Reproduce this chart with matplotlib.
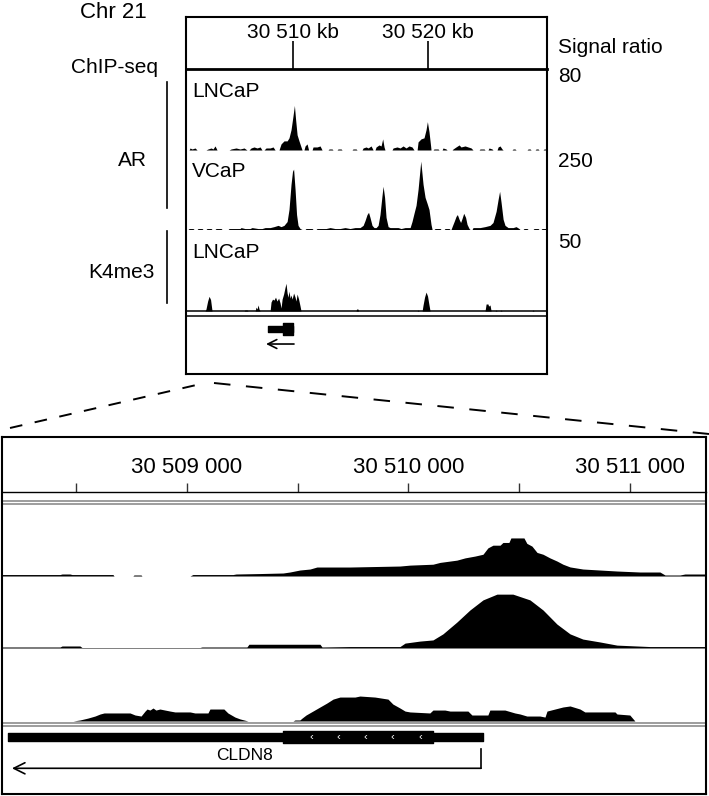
import matplotlib.pyplot as plt
from matplotlib.lines import Line2D

plt.rcParams['font.family'] = ['Liberation Sans', 'DejaVu Sans']

W, H = 709, 796

# ---------------- overview panel, chr21 in kb ----------------
top_xlim = (30502.07, 30528.81)
top_ticks = [30510, 30520]
top_tick_labels = ['30 510 kb', '30 520 kb']

# (kb, signal ratio)
ar_lncap_top = [
    (30502.07, 0), (30502.30, 0), (30502.37, 2), (30502.52, 1), (30502.74, 2), (30502.89, 0),
    (30503.55, 0), (30503.70, 1), (30503.93, 2), (30504.07, 1), (30504.22, 4), (30504.37, 0),
    (30505.26, 0), (30505.41, 1), (30505.78, 2), (30506.07, 1), (30506.37, 2), (30506.59, 0),
    (30506.74, 0), (30506.89, 2), (30507.11, 3), (30507.33, 2), (30507.56, 3), (30507.70, 0),
    (30507.85, 0), (30508.00, 2), (30508.30, 2), (30508.52, 3), (30508.67, 0),
    (30508.96, 0), (30509.11, 6), (30509.33, 9), (30509.56, 9), (30509.70, 12), (30509.85, 20),
    (30510.00, 34), (30510.10, 44), (30510.19, 30), (30510.30, 15), (30510.44, 9), (30510.59, 3),
    (30510.67, 0),
    (30510.81, 0), (30510.89, 4), (30511.04, 6), (30511.15, 0),
    (30511.41, 0), (30511.48, 3), (30511.78, 3), (30512.00, 4), (30512.15, 0),
    (30512.59, 0), (30512.67, 1), (30512.89, 1), (30512.96, 0), (30513.26, 0), (30513.33, 1),
    (30513.56, 1), (30513.63, 0),
    (30514.37, 0), (30514.44, 1), (30514.67, 1), (30514.74, 0),
    (30515.11, 0), (30515.19, 2), (30515.41, 3), (30515.56, 2), (30515.78, 4), (30515.93, 0),
    (30516.07, 0), (30516.15, 3), (30516.37, 5), (30516.52, 4), (30516.64, 11), (30516.74, 3),
    (30516.81, 0),
    (30517.33, 0), (30517.41, 2), (30517.70, 3), (30517.93, 2), (30518.15, 4), (30518.37, 2),
    (30518.59, 4), (30518.81, 3), (30518.96, 0),
    (30519.19, 0), (30519.26, 8), (30519.48, 11), (30519.70, 12), (30519.85, 20), (30519.95, 28),
    (30520.07, 18), (30520.19, 4), (30520.22, 0),
    (30520.37, 0), (30520.44, 1), (30520.74, 1), (30520.81, 0), (30521.04, 0), (30521.11, 2),
    (30521.33, 1), (30521.41, 0),
    (30521.78, 0), (30521.85, 1), (30522.07, 3), (30522.30, 5), (30522.44, 3), (30522.74, 4),
    (30522.96, 3), (30523.19, 2), (30523.33, 0),
    (30523.78, 0), (30523.85, 1), (30524.15, 1), (30524.22, 0), (30524.44, 0), (30524.52, 2),
    (30524.74, 1), (30524.81, 0),
    (30525.11, 0), (30525.19, 3), (30525.33, 4), (30525.48, 1), (30525.56, 0),
    (30526.22, 0), (30526.30, 1), (30526.44, 1), (30526.52, 0), (30527.33, 0), (30527.41, 1),
    (30527.56, 1), (30527.63, 0), (30527.93, 0), (30528.00, 1), (30528.15, 1), (30528.22, 0),
    (30528.52, 0), (30528.59, 1), (30528.74, 1), (30528.81, 0),
]

ar_vcap_top = [
    (30502.07, 0), (30502.22, 0), (30502.30, 3), (30502.59, 3), (30502.67, 0), (30502.89, 0),
    (30502.96, 3), (30503.26, 3), (30503.33, 0), (30503.55, 0), (30503.63, 3), (30503.93, 3),
    (30504.00, 0), (30504.22, 0), (30504.30, 3), (30504.67, 3), (30504.74, 0), (30505.19, 0),
    (30505.26, 3), (30506.07, 3), (30506.15, 6), (30506.44, 3), (30506.81, 3), (30506.96, 6),
    (30507.41, 3), (30507.70, 3), (30507.93, 6), (30508.30, 6), (30508.59, 9), (30508.89, 13),
    (30509.11, 9), (30509.33, 13), (30509.56, 25), (30509.70, 63), (30509.85, 142),
    (30509.96, 183), (30510.04, 190), (30510.15, 126), (30510.26, 47), (30510.37, 13),
    (30510.52, 3), (30510.67, 0), (30510.89, 0), (30510.96, 3), (30511.41, 3), (30511.48, 0),
    (30511.70, 0), (30511.78, 3), (30512.15, 3), (30512.44, 3), (30512.74, 6), (30513.11, 3),
    (30513.48, 3), (30513.85, 6), (30514.22, 3), (30514.59, 6), (30514.96, 6), (30515.19, 13),
    (30515.33, 28), (30515.48, 47), (30515.59, 54), (30515.70, 38), (30515.85, 13),
    (30516.00, 6), (30516.15, 6), (30516.30, 13), (30516.44, 47), (30516.59, 107),
    (30516.67, 136), (30516.78, 101), (30516.89, 38), (30517.04, 9), (30517.19, 6),
    (30517.56, 6), (30517.78, 6), (30518.00, 3), (30518.30, 6), (30518.52, 6), (30518.67, 6),
    (30518.81, 25), (30518.96, 51), (30519.11, 76), (30519.26, 126), (30519.46, 215),
    (30519.63, 142), (30519.78, 101), (30519.93, 82), (30520.07, 63), (30520.22, 16),
    (30520.30, 0), (30520.44, 0), (30520.52, 3), (30520.89, 3), (30520.96, 0), (30521.19, 0),
    (30521.26, 3), (30521.56, 3), (30521.63, 0), (30521.70, 0), (30521.78, 9), (30521.93, 25),
    (30522.07, 41), (30522.17, 47), (30522.30, 32), (30522.41, 22), (30522.52, 35),
    (30522.64, 51), (30522.78, 38), (30522.89, 16), (30523.04, 3), (30523.11, 0),
    (30523.26, 0), (30523.33, 6), (30523.85, 6), (30524.22, 9), (30524.59, 13), (30524.81, 22),
    (30525.04, 57), (30525.19, 95), (30525.30, 120), (30525.41, 85), (30525.56, 32),
    (30525.70, 13), (30525.93, 6), (30526.30, 6), (30526.52, 9), (30526.74, 3), (30526.81, 0),
    (30527.04, 0), (30527.11, 3), (30527.33, 3), (30527.41, 0), (30527.78, 0), (30527.85, 3),
    (30528.15, 3), (30528.22, 0), (30528.37, 0), (30528.44, 3), (30528.74, 3), (30528.81, 0),
]

k4_lncap_top = [
    (30502.07, 0), (30503.48, 0), (30503.55, 1.2), (30503.67, 6), (30503.78, 9), (30503.89, 7),
    (30504.00, 0), (30506.37, 0), (30506.44, 0.6), (30506.59, 0.6), (30506.67, 0),
    (30507.19, 0), (30507.26, 2.4), (30507.33, 1.2), (30507.41, 3.7), (30507.48, 1.2),
    (30507.56, 0), (30508.30, 0), (30508.37, 5.5), (30508.48, 7.3), (30508.59, 6.7),
    (30508.70, 8.5), (30508.81, 6.1), (30508.93, 7.9), (30509.04, 4.9), (30509.11, 1.8),
    (30509.19, 7.3), (30509.30, 10.4), (30509.41, 14.6), (30509.48, 17), (30509.56, 11),
    (30509.63, 8.5), (30509.70, 12.2), (30509.78, 7.9), (30509.85, 9.8), (30509.93, 7.3),
    (30510.04, 11), (30510.15, 8.5), (30510.22, 6.1), (30510.30, 10.4), (30510.41, 7.3),
    (30510.52, 3), (30510.59, 0), (30514.67, 0), (30514.70, 1.2), (30514.81, 1.2),
    (30514.85, 0), (30519.19, 0), (30519.26, 0.6), (30519.33, 0), (30519.56, 0),
    (30519.63, 3.7), (30519.74, 8.5), (30519.85, 11.6), (30519.96, 9.2), (30520.07, 3.7),
    (30520.15, 0), (30524.22, 0), (30524.30, 4.3), (30524.44, 4.3), (30524.48, 3),
    (30524.59, 3.7), (30524.67, 0), (30524.96, 0), (30525.04, 0.6), (30525.11, 0),
    (30525.33, 0), (30525.41, 0.6), (30525.48, 0), (30527.70, 0), (30527.78, 0.6),
    (30527.85, 0), (30528.81, 0),
]

top_utr = (30508.15, 30510.00)
top_cds = (30509.26, 30510.00)
top_tx = (30510.07, 30508.00)   # transcript, start -> end (minus strand)

# ---------------- zoomed panel, bp ----------------
bot_xlim = (30508165, 30511344)
bot_ticks = [30508500, 30509000, 30509500, 30510000, 30510500, 30511000]
bot_tick_labels = ['', '30 509 000', '', '30 510 000', '', '30 511 000']

ar_lncap_zoom = [
    (30508165, 1.6), (30508427, 1.6), (30508436, 2.2), (30508472, 2.2), (30508481, 1.6),
    (30508666, 1.6), (30508671, 0), (30508756, 0), (30508761, 1.1), (30508793, 1.1),
    (30508797, 0), (30509014, 0), (30509027, 1.6), (30509208, 1.6), (30509222, 2.2),
    (30509330, 2.7), (30509434, 3.3), (30509465, 4.4), (30509510, 6.6), (30509556, 7.7),
    (30509587, 9.9), (30509736, 9.9), (30509962, 11), (30510007, 12), (30510111, 13),
    (30510143, 15), (30510219, 17.5), (30510256, 20), (30510301, 22), (30510337, 24),
    (30510359, 31), (30510382, 34), (30510414, 34), (30510427, 37), (30510454, 37),
    (30510463, 42), (30510522, 42), (30510535, 36), (30510558, 33), (30510581, 26),
    (30510608, 24), (30510639, 20), (30510671, 16.5), (30510698, 13), (30510730, 10),
    (30510788, 7.7), (30510865, 6.6), (30510942, 5.5), (30511046, 4.4), (30511136, 4.4),
    (30511159, 1.1), (30511226, 1.1), (30511249, 2.2), (30511344, 2.2),
]

ar_vcap_zoom = [
    (30508165, 3.5), (30508427, 3.5), (30508436, 7), (30508517, 7), (30508526, 1.7),
    (30509059, 1.7), (30509068, 3.5), (30509271, 3.5), (30509280, 13), (30509601, 13),
    (30509610, 3.5), (30509736, 5), (30509962, 5), (30509985, 17), (30510052, 24),
    (30510111, 28), (30510156, 49), (30510219, 90), (30510278, 132), (30510337, 167),
    (30510400, 187), (30510472, 187), (30510549, 167), (30510608, 132), (30510671, 83),
    (30510730, 49), (30510788, 31), (30510865, 21), (30510942, 10), (30511091, 5),
    (30511344, 5),
]

k4_lncap_zoom = [
    (30508165, 0), (30508486, 0), (30508517, 0.7), (30508553, 2), (30508585, 3.4),
    (30508608, 4.8), (30508626, 5.5), (30508743, 5.5), (30508766, 4.1), (30508793, 3.4),
    (30508811, 6.8), (30508820, 8.2), (30508833, 7.5), (30508847, 8.9), (30508860, 7.5),
    (30508878, 8.2), (30508901, 7.5), (30508924, 6.8), (30508946, 6.2), (30509014, 6.2),
    (30509036, 5.5), (30509095, 5.5), (30509104, 8.2), (30509167, 8.2), (30509185, 5.5),
    (30509217, 2.7), (30509240, 1.4), (30509276, 0), (30509479, 0), (30509488, 0.7),
    (30509510, 0.7), (30509520, 2), (30509538, 4.1), (30509569, 6.8), (30509601, 9.6),
    (30509632, 12.3), (30509660, 15), (30509691, 16.4), (30509759, 16.4), (30509781, 17.1),
    (30509849, 16.4), (30509908, 15), (30509930, 11.6), (30509962, 8.9), (30509985, 6.8),
    (30510007, 6.2), (30510097, 5.5), (30510111, 7.5), (30510165, 7.5), (30510188, 6.8),
    (30510269, 6.8), (30510287, 4.1), (30510359, 4.1), (30510368, 7.5), (30510436, 7.5),
    (30510481, 5.5), (30510504, 4.8), (30510535, 3.4), (30510594, 3.4), (30510617, 2.7),
    (30510626, 6.8), (30510662, 8.2), (30510698, 9.6), (30510730, 10.3), (30510775, 8.2),
    (30510797, 6.2), (30510933, 6.2), (30510942, 4.8), (30511000, 4.1), (30511023, 0),
    (30511344, 0),
]

gene_name = 'CLDN8'
gene_utr = (30508194, 30510338)
gene_cds = (30509432, 30510112)
gene_tss = 30510328
gene_arrow_end = 30508210
strand_marks = [30509563, 30509683, 30509804, 30509929, 30510052]

track_names = ['LNCaP', 'VCaP', 'LNCaP']
track_max = [80, 250, 50]
track_max_labels = ['80', '250', '50']

fig = plt.figure(figsize=(W / 100, H / 100), dpi=100)


def px_axes(x0, y0, x1, y1):
    ax = fig.add_axes([x0 / W, 1 - y1 / H, (x1 - x0) / W, (y1 - y0) / H])
    ax.set_facecolor('none')
    for s in ax.spines.values():
        s.set_visible(False)
    ax.set_xticks([])
    ax.set_yticks([])
    return ax


def ftext(x, y, s, **kw):
    fig.text(x / W, 1 - y / H, s, va='baseline', **kw)


def signal(ax, pts, xlim, ymax, base='#c8c8c8'):
    x, y = zip(*pts)
    ax.axhline(0, color=base, lw=0.7)
    ax.fill_between(x, 0, y, color='black', lw=0)
    ax.set_xlim(xlim)
    ax.set_ylim(0, ymax)


def double_line(x0, y0, x1, y1, color, lw):
    ax = px_axes(x0, y0, x1, y1)
    for s in ('top', 'bottom'):
        ax.spines[s].set_visible(True)
        ax.spines[s].set_color(color)
        ax.spines[s].set_linewidth(lw)


def gene(ax, utr, cds, yc, h_utr, h_cds):
    ax.broken_barh([(utr[0], utr[1] - utr[0])], (yc - h_utr / 2, h_utr), color='black')
    ax.broken_barh([(cds[0], cds[1] - cds[0])], (yc - h_cds / 2, h_cds), color='black')


# ---------- top panel ----------
ruler = px_axes(186, 17, 547, 69)
ruler.spines['bottom'].set_visible(True)
ruler.spines['bottom'].set_linewidth(2.0)
ruler.set_xlim(top_xlim)
ruler.set_ylim(0, 1)
ruler.vlines(top_ticks, 0, 0.53, color='black', lw=1.2)
for t, lab in zip(top_ticks, top_tick_labels):
    ruler.text(t, 0.59, lab, ha='center', va='baseline', fontsize=15)

top_rows = [(69, 150), (150, 229.5), (229.5, 311)]
top_data = [ar_lncap_top, ar_vcap_top, k4_lncap_top]
label_base = [0.658, 0.664, 0.647]
for (y0, y1), pts, ymax, name, lb in zip(top_rows, top_data, track_max, track_names, label_base):
    ax = px_axes(186, y0, 547, y1)
    signal(ax, pts, top_xlim, ymax)
    ax.text(0.017, lb, name, transform=ax.transAxes, fontsize=15, va='baseline')

double_line(186, 311, 547, 316, 'black', 1.1)

gax = px_axes(186, 316, 547, 374)
gax.set_xlim(top_xlim)
gax.set_ylim(0, 1)
gene(gax, top_utr, top_cds, 0.776, 0.103, 0.207)
gax.annotate('', xy=(top_tx[1], 0.517), xytext=(top_tx[0], 0.517),
             arrowprops=dict(arrowstyle='->', lw=1.2, color='black',
                             shrinkA=0, shrinkB=0, mutation_scale=16))

frame = px_axes(186, 17, 547, 374)
for s in frame.spines.values():
    s.set_visible(True)
    s.set_linewidth(1.5)

ftext(80, 18, 'Chr 21', fontsize=16)
ftext(114.5, 73, 'ChIP-seq', fontsize=15, ha='center')
ftext(132.5, 166, 'AR', fontsize=15, ha='center')
ftext(121.5, 278, 'K4me3', fontsize=15, ha='center')
fig.add_artist(Line2D([167 / W] * 2, [1 - 82 / H, 1 - 208 / H], color='black', lw=1.2))
fig.add_artist(Line2D([167 / W] * 2, [1 - 231 / H, 1 - 303 / H], color='black', lw=1.2))

ftext(558, 53, 'Signal ratio', fontsize=15)
for yb, lab in zip([81.7, 166.7, 248.3], track_max_labels):
    ftext(558, yb, lab, fontsize=15)

# zoom guide lines
fig.add_artist(Line2D([10 / W, 205 / W], [1 - 428 / H, 1 - 383 / H],
                      color='black', lw=1.4, ls=(0, (6.5, 6.5))))
fig.add_artist(Line2D([214 / W, 709 / W], [1 - 383 / H, 1 - 434 / H],
                      color='black', lw=1.4, ls=(0, (8.5, 8))))

# ---------- bottom panel ----------
bruler = px_axes(2, 437, 706, 492)
bruler.spines['bottom'].set_visible(True)
bruler.spines['bottom'].set_linewidth(1.0)
bruler.set_xlim(bot_xlim)
bruler.set_ylim(0, 1)
bruler.vlines(bot_ticks, 0, 0.165, color='#333333', lw=1.0)
for t, lab in zip(bot_ticks, bot_tick_labels):
    bruler.text(t, 0.34, lab, ha='center', va='baseline', fontsize=16)

double_line(2, 500.5, 706, 503.5, '#8c8c8c', 1.2)

bot_rows = [(503.5, 576), (576, 648), (648, 721)]
bot_data = [ar_lncap_zoom, ar_vcap_zoom, k4_lncap_zoom]
for (y0, y1), pts, ymax in zip(bot_rows, bot_data, track_max):
    ax = px_axes(2, y0, 706, y1)
    signal(ax, pts, bot_xlim, ymax, base='#555555')

double_line(2, 722.7, 706, 725.7, '#8c8c8c', 1.2)

bg = px_axes(2, 726, 706, 794)
bg.set_xlim(bot_xlim)
bg.set_ylim(0, 1)
gene(bg, gene_utr, gene_cds, 0.838, 0.109, 0.185)
for m in strand_marks:
    bg.text(m, 0.838, '\u2039', color='white', fontsize=8, ha='center', va='center')
bg.text(30509262, 0.5, gene_name, ha='center', va='baseline', fontsize=12.5)
bg.plot([gene_tss, gene_tss], [0.378, 0.66], color='black', lw=1.2)
bg.annotate('', xy=(gene_arrow_end, 0.378), xytext=(gene_tss, 0.378),
            arrowprops=dict(arrowstyle='->', lw=1.2, color='black',
                            shrinkA=0, shrinkB=0, mutation_scale=20))

bframe = px_axes(2, 437, 706, 794)
for s in bframe.spines.values():
    s.set_visible(True)
    s.set_linewidth(1.5)

fig.savefig('out.png', dpi=100)
